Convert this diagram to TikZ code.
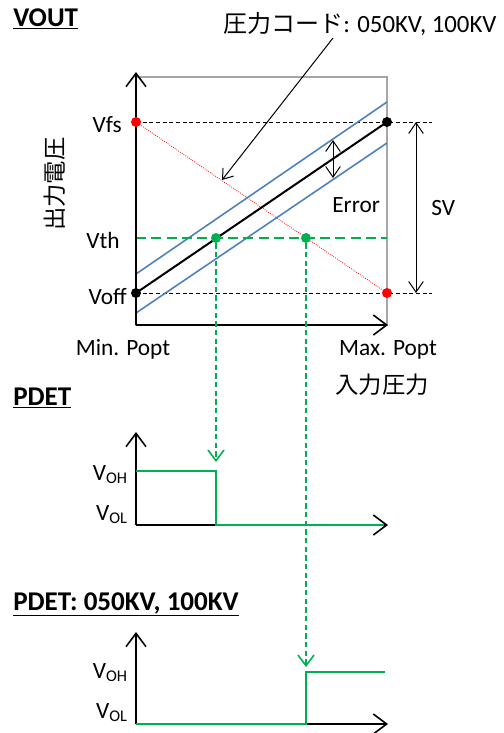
\documentclass[tikz,border=0pt]{standalone}
\usepackage{fontspec}
\setmainfont{Carlito}
\newfontfamily\jpfont{Noto Sans CJK JP}
\usetikzlibrary{arrows.meta, positioning}
\definecolor{lineblue}{RGB}{79,129,189}
\definecolor{siggreen}{RGB}{0,176,80}
\definecolor{framegray}{RGB}{166,166,166}
\tikzset{
    axis/.style={line width=1.5pt, -{Straight Barb[length=10pt,width=15pt,line width=1.2pt]}},
    frame/.style={draw=framegray, line width=1pt},
    refline/.style={densely dashed, line width=0.75pt},
    reddots/.style={draw=red, densely dotted, line width=0.6pt},
    blueline/.style={draw=lineblue, line width=1.2pt},
    transfer/.style={line width=1.5pt},
    greendash/.style={draw=siggreen, dash pattern=on 7.5pt off 4pt, line width=1.6pt},
    greendrop/.style={draw=siggreen, dash pattern=on 4pt off 2.5pt, line width=1.2pt,
        -{Straight Barb[length=8pt,width=12pt,line width=1.2pt]}},
    dim/.style={line width=0.75pt, {Straight Barb[length=8pt,width=11pt]}-{Straight Barb[length=8pt,width=11pt]}},
    signal/.style={draw=siggreen, line width=1.5pt},
    dot/.style={circle, fill=#1, inner sep=0pt, minimum size=7.5pt},
    lbl/.style={font=\fontsize{17.5}{19}\selectfont, inner sep=0pt},
    title/.style={font=\bfseries\fontsize{20.3}{22}\selectfont, inner sep=0pt, anchor=base west},
    jp/.style={font=\jpfont\fontsize{17.5}{19}\selectfont, inner sep=0pt}
}
\begin{document}
\begin{tikzpicture}[x=0.75pt, y=-0.75pt]
    \useasboundingbox (0,0) rectangle (504,733);

    % --- VOUT ---
    \node[title] (vout) at (13,26) {\underline{VOUT}};
    \draw[frame] (136,77) rectangle (387,325);
    \draw[refline] (136,122) -- (432,122);
    \draw[refline] (136,293) -- (432,293);
    \draw[reddots] (136,122) -- (387,293);
    \draw[blueline] (136,274) -- (387,102);
    \draw[blueline] (136,313) -- (387,143);
    \draw[transfer] (136,293) -- (387,122);
    \draw[greendash] (136,238) -- (387,238);
    \draw[axis] (136,325) -- (136,72);
    \draw[axis] (136,325) -- (388,325);

    \draw[dim] (333,140) -- (333,178);
    \draw[dim] (416,122) -- (416,293);

    \node[jp, anchor=base west, font=\jpfont\fontsize{18}{20}\selectfont] (code) at (223,32) {圧力コード{\fontsize{18.6}{20}\selectfont\rmfamily: 050KV, 100KV}};
    \coordinate (codetip) at (222,180);
    \draw[line width=0.75pt, -{Straight Barb[length=7pt,width=10pt]}] (333,38) -- (codetip);

    \foreach \x/\y/\c/\n in {136/122/red/fsmin, 387/122/black/fsmax, 136/293/black/offmin, 387/293/red/offmax, 216/238/siggreen/thA, 306/238/siggreen/thB}
    {
        \node[dot=\c] (\n) at (\x,\y) {};
    }

    \draw[greendrop] (thA) -- (216,462);
    \draw[greendrop] (thB) -- (306,667);

    \node[lbl, anchor=base east] (vfs) at (122,132) {Vfs};
    \node[lbl, anchor=base east] (vth) at (120,248) {Vth};
    \node[lbl, anchor=base east] (voff) at (127,304) {Voff};
    \node[lbl, anchor=base west] (err) at (332,212) {Error};
    \node[lbl, anchor=base west] (sv) at (431,215) {SV};
    \node[lbl, anchor=base] (minp) at (123,355) {Min. Popt};
    \node[lbl, anchor=base] (maxp) at (388,355) {Max. Popt};
    \node[jp] (xlab) at (382,385) {入力圧力};
    \node[jp, rotate=90] (ylab) at (55,184) {出力電圧};

    % --- PDET ---
    \node[title] (pdet) at (13,405) {\underline{PDET}};
    \draw[axis] (136,525) -- (136,432);
    \draw[axis] (136,525) -- (388,525);
    \draw[signal] (136,471) -- (216,471) -- (216,525) -- (384,525);
    \node[lbl, anchor=base east] at (128,480) {V\textsubscript{OH}};
    \node[lbl, anchor=base east] at (128,520) {V\textsubscript{OL}};

    % --- PDET: 050KV, 100KV ---
    \node[title] (pdetb) at (13,610) {\underline{PDET: 050KV, 100KV}};
    \draw[axis] (136,724) -- (136,632);
    \draw[axis] (136,724) -- (388,724);
    \draw[signal] (136,724) -- (306,724) -- (306,672) -- (385,672);
    \node[lbl, anchor=base east] at (128,678) {V\textsubscript{OH}};
    \node[lbl, anchor=base east] at (128,718) {V\textsubscript{OL}};
\end{tikzpicture}
\end{document}
